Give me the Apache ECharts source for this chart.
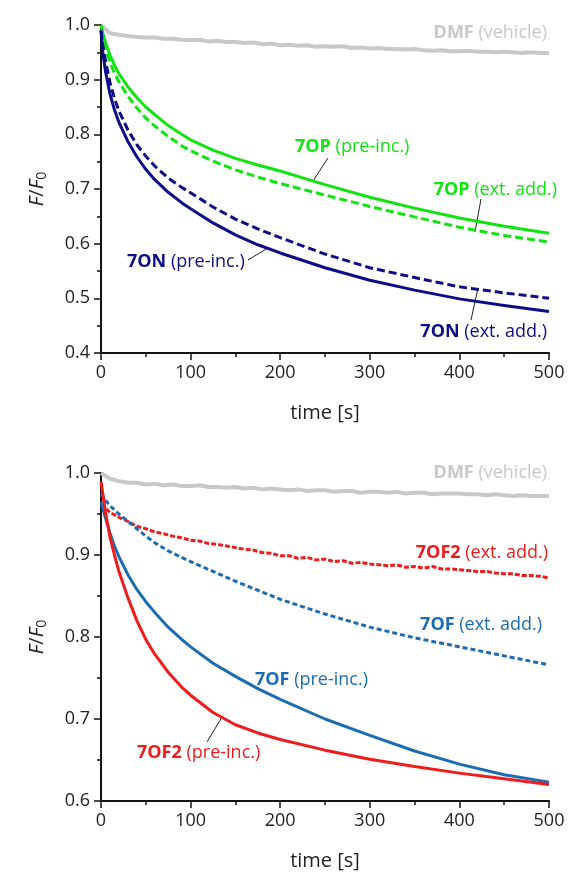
<!DOCTYPE html>
<html>
<head>
<meta charset="utf-8">
<title>F/F0 vs time</title>
<style>
  html, body { margin: 0; padding: 0; background: #fff; }
  #root { width: 568px; height: 872px; }
</style>
<script src="https://cdn.jsdelivr.net/npm/echarts@6/dist/echarts.min.js"></script>
</head>
<body>
<div id="root"></div>
<script>
// time grids [s]
var tFit = [0, 2, 5, 10, 15, 20, 30, 40, 50, 60, 75, 90, 100, 125, 150, 175, 200, 250, 300, 350, 400, 450, 500];
var tRaw = [0, 10, 20, 30, 40, 50, 60, 70, 80, 90, 100, 110, 120, 130, 140, 150, 160, 170, 180, 190,
  200, 210, 220, 230, 240, 250, 260, 270, 280, 290, 300, 310, 320, 330, 340, 350, 360, 370, 380, 390,
  400, 410, 420, 430, 440, 450, 460, 470, 480, 490, 500];

// top panel
var dmfTop = [1.000, 0.985, 0.982, 0.980, 0.978, 0.977, 0.977, 0.975, 0.975, 0.973, 0.972, 0.973, 0.970, 0.971, 0.969,
  0.969, 0.967, 0.968, 0.965, 0.966, 0.963, 0.964, 0.962, 0.963, 0.960, 0.961, 0.960, 0.961, 0.958, 0.959,
  0.957, 0.958, 0.956, 0.956, 0.955, 0.956, 0.954, 0.953, 0.954, 0.952, 0.952, 0.953, 0.951, 0.951, 0.950,
  0.951, 0.950, 0.949, 0.950, 0.949, 0.949];
var opPre = [1.000, 0.985, 0.968, 0.945, 0.927, 0.911, 0.887, 0.867, 0.850, 0.836, 0.816, 0.800, 0.790,
  0.771, 0.756, 0.744, 0.733, 0.708, 0.685, 0.665, 0.647, 0.632, 0.619];
var opExt = [0.990, 0.975, 0.957, 0.932, 0.912, 0.896, 0.870, 0.848, 0.830, 0.815, 0.796, 0.779, 0.770,
  0.751, 0.735, 0.722, 0.710, 0.689, 0.668, 0.649, 0.630, 0.615, 0.603];
var onPre = [0.990, 0.950, 0.915, 0.874, 0.845, 0.822, 0.787, 0.759, 0.736, 0.717, 0.694, 0.675, 0.664,
  0.638, 0.616, 0.598, 0.583, 0.556, 0.533, 0.515, 0.499, 0.487, 0.476];
var onExt = [0.990, 0.962, 0.935, 0.895, 0.866, 0.843, 0.808, 0.781, 0.760, 0.742, 0.720, 0.703, 0.693,
  0.667, 0.645, 0.627, 0.611, 0.581, 0.556, 0.538, 0.521, 0.510, 0.500];

// bottom panel
var dmfBot = [1.000, 0.993, 0.990, 0.988, 0.988, 0.986, 0.987, 0.985, 0.986, 0.984, 0.984, 0.985, 0.983, 0.983, 0.982,
  0.983, 0.981, 0.982, 0.980, 0.981, 0.980, 0.979, 0.980, 0.978, 0.979, 0.979, 0.977, 0.978, 0.978, 0.976,
  0.977, 0.977, 0.976, 0.977, 0.975, 0.976, 0.976, 0.974, 0.975, 0.975, 0.975, 0.974, 0.974, 0.973, 0.974,
  0.973, 0.972, 0.973, 0.972, 0.972, 0.972];
var of2Ext = [0.962, 0.952, 0.946, 0.941, 0.935, 0.932, 0.928, 0.926, 0.923, 0.921, 0.918, 0.917, 0.914, 0.913, 0.911,
  0.909, 0.907, 0.906, 0.903, 0.902, 0.899, 0.899, 0.896, 0.897, 0.894, 0.895, 0.892, 0.893, 0.890, 0.891,
  0.889, 0.888, 0.887, 0.888, 0.885, 0.886, 0.884, 0.886, 0.883, 0.883, 0.882, 0.881, 0.880, 0.880, 0.878,
  0.877, 0.877, 0.875, 0.875, 0.874, 0.872];
var ofExt = [0.975, 0.972, 0.967, 0.960, 0.955, 0.950, 0.941, 0.932, 0.923, 0.915, 0.905, 0.897, 0.892,
  0.880, 0.868, 0.857, 0.846, 0.828, 0.812, 0.799, 0.788, 0.777, 0.766];
var ofPre = [0.965, 0.957, 0.945, 0.927, 0.911, 0.898, 0.876, 0.858, 0.843, 0.830, 0.812, 0.797, 0.788,
  0.768, 0.752, 0.737, 0.724, 0.700, 0.680, 0.661, 0.645, 0.632, 0.623];
var of2Pre = [0.990, 0.975, 0.952, 0.922, 0.900, 0.880, 0.848, 0.820, 0.797, 0.779, 0.757, 0.739, 0.729,
  0.708, 0.693, 0.683, 0.675, 0.662, 0.651, 0.642, 0.634, 0.627, 0.620];

var xTicks = [0, 100, 200, 300, 400, 500];

var FONT = '"Open Sans", "DejaVu Sans", sans-serif';
var GRAY = '#c8c8c8', GREEN = '#11e411', NAVY = '#0c0c88', BLUE = '#1b6cb3', RED = '#ee1c1c';

function pairs(ts, vs) {
  return ts.map(function (t, i) { return [t, vs[i]]; });
}

var dom = document.getElementById('root');
var myChart = echarts.init(dom, null, { renderer: 'canvas' });

function xAx(idx) {
  return {
    type: 'value', gridIndex: idx, min: 0, max: 500, interval: 100,
    name: 'time [s]', nameLocation: 'middle', nameGap: 50,
    nameTextStyle: { color: '#222', fontSize: 20, fontFamily: FONT },
    axisLine: { show: true, onZero: false, lineStyle: { color: '#111', width: 2 } },
    axisTick: { show: true, inside: false, length: 7, lineStyle: { color: '#111', width: 1.5 } },
    minorTick: { show: true, splitNumber: 2, length: 4, lineStyle: { color: '#111', width: 1.5 } },
    axisLabel: { color: '#222', fontSize: 18, fontFamily: FONT, margin: 11,
      formatter: function (v) { return xTicks.indexOf(v) >= 0 ? String(v) : ''; } },
    splitLine: { show: false }
  };
}

function yAx(idx, min) {
  return {
    type: 'value', gridIndex: idx, min: min, max: 1.0, interval: 0.1,
    name: '{i|F}/{i|F}{s|0}', nameLocation: 'middle', nameGap: 52, nameRotate: 90,
    nameTextStyle: {
      color: '#222', fontSize: 20, fontFamily: FONT,
      rich: {
        i: { fontStyle: 'italic', fontSize: 20, fontFamily: FONT, color: '#222' },
        s: { fontSize: 14, fontFamily: FONT, color: '#222', padding: [10, 0, 0, 0] }
      }
    },
    axisLine: { show: true, onZero: false, lineStyle: { color: '#111', width: 2 } },
    axisTick: { show: true, inside: false, length: 7, lineStyle: { color: '#111', width: 1.5 } },
    minorTick: { show: true, splitNumber: 2, length: 4, lineStyle: { color: '#111', width: 1.5 } },
    axisLabel: { color: '#222', fontSize: 18, fontFamily: FONT, margin: 11,
      formatter: function (v) { return v.toFixed(1); } },
    splitLine: { show: false }
  };
}

function line(name, idx, ts, vs, color, width, dash) {
  return {
    name: name, type: 'line', xAxisIndex: idx, yAxisIndex: idx,
    data: pairs(ts, vs), showSymbol: false, silent: true, smooth: false,
    lineStyle: { color: color, width: width, type: dash || 'solid', cap: 'butt', join: 'round' },
    animation: false
  };
}

// annotation labels: [bold part, rest, color, x, y, align]
var labels = [
  ['DMF', ' (vehicle)', GRAY, 547, 33, 'right'],
  ['7OP', ' (pre-inc.)', GREEN, 295, 147, 'left'],
  ['7OP', ' (ext. add.)', GREEN, 557, 190, 'right'],
  ['7ON', ' (pre-inc.)', NAVY, 127, 262, 'left'],
  ['7ON', ' (ext. add.)', NAVY, 547, 332, 'right'],
  ['DMF', ' (vehicle)', GRAY, 547, 473, 'right'],
  ['7OF2', ' (ext. add.)', RED, 548, 553, 'right'],
  ['7OF', ' (ext. add.)', BLUE, 542, 625, 'right'],
  ['7OF', ' (pre-inc.)', BLUE, 255, 680, 'left'],
  ['7OF2', ' (pre-inc.)', RED, 137, 753, 'left']
];
var leaders = [
  [328, 158, 313, 181],
  [481, 199, 475, 232],
  [248, 260, 268, 248],
  [471, 320, 478, 288],
  [207, 742, 222, 717]
];

var graphics = labels.map(function (l) {
  return {
    type: 'text', x: l[3], y: l[4], silent: true,
    style: {
      text: '{b|' + l[0] + '}' + l[1],
      fill: l[2], fontSize: 18, fontFamily: FONT,
      align: l[5], verticalAlign: 'middle',
      rich: { b: { fontWeight: 'bold', fill: l[2], fontSize: 18, fontFamily: FONT } }
    }
  };
}).concat(leaders.map(function (s) {
  return {
    type: 'line', silent: true,
    shape: { x1: s[0], y1: s[1], x2: s[2], y2: s[3] },
    style: { stroke: '#222', lineWidth: 1 }
  };
}));

var option = {
  backgroundColor: '#fff',
  animation: false,
  grid: [
    { left: 101, right: 19, top: 25, height: 328 },
    { left: 101, right: 19, top: 473, height: 328 }
  ],
  xAxis: [xAx(0), xAx(1)],
  yAxis: [yAx(0, 0.4), yAx(1, 0.6)],
  series: [
    line('DMF (vehicle)', 0, tRaw, dmfTop, GRAY, 4),
    line('7OP (ext. add.)', 0, tFit, opExt, GREEN, 3, [8, 4]),
    line('7OP (pre-inc.)', 0, tFit, opPre, GREEN, 3),
    line('7ON (ext. add.)', 0, tFit, onExt, NAVY, 3, [8, 4]),
    line('7ON (pre-inc.)', 0, tFit, onPre, NAVY, 3),
    line('DMF (vehicle)', 1, tRaw, dmfBot, GRAY, 4),
    line('7OF2 (ext. add.)', 1, tRaw, of2Ext, RED, 3, [5, 2]),
    line('7OF (ext. add.)', 1, tFit, ofExt, BLUE, 3, [5, 3]),
    line('7OF (pre-inc.)', 1, tFit, ofPre, BLUE, 3),
    line('7OF2 (pre-inc.)', 1, tFit, of2Pre, RED, 3)
  ],
  graphic: graphics
};

myChart.setOption(option);
</script>
</body>
</html>
